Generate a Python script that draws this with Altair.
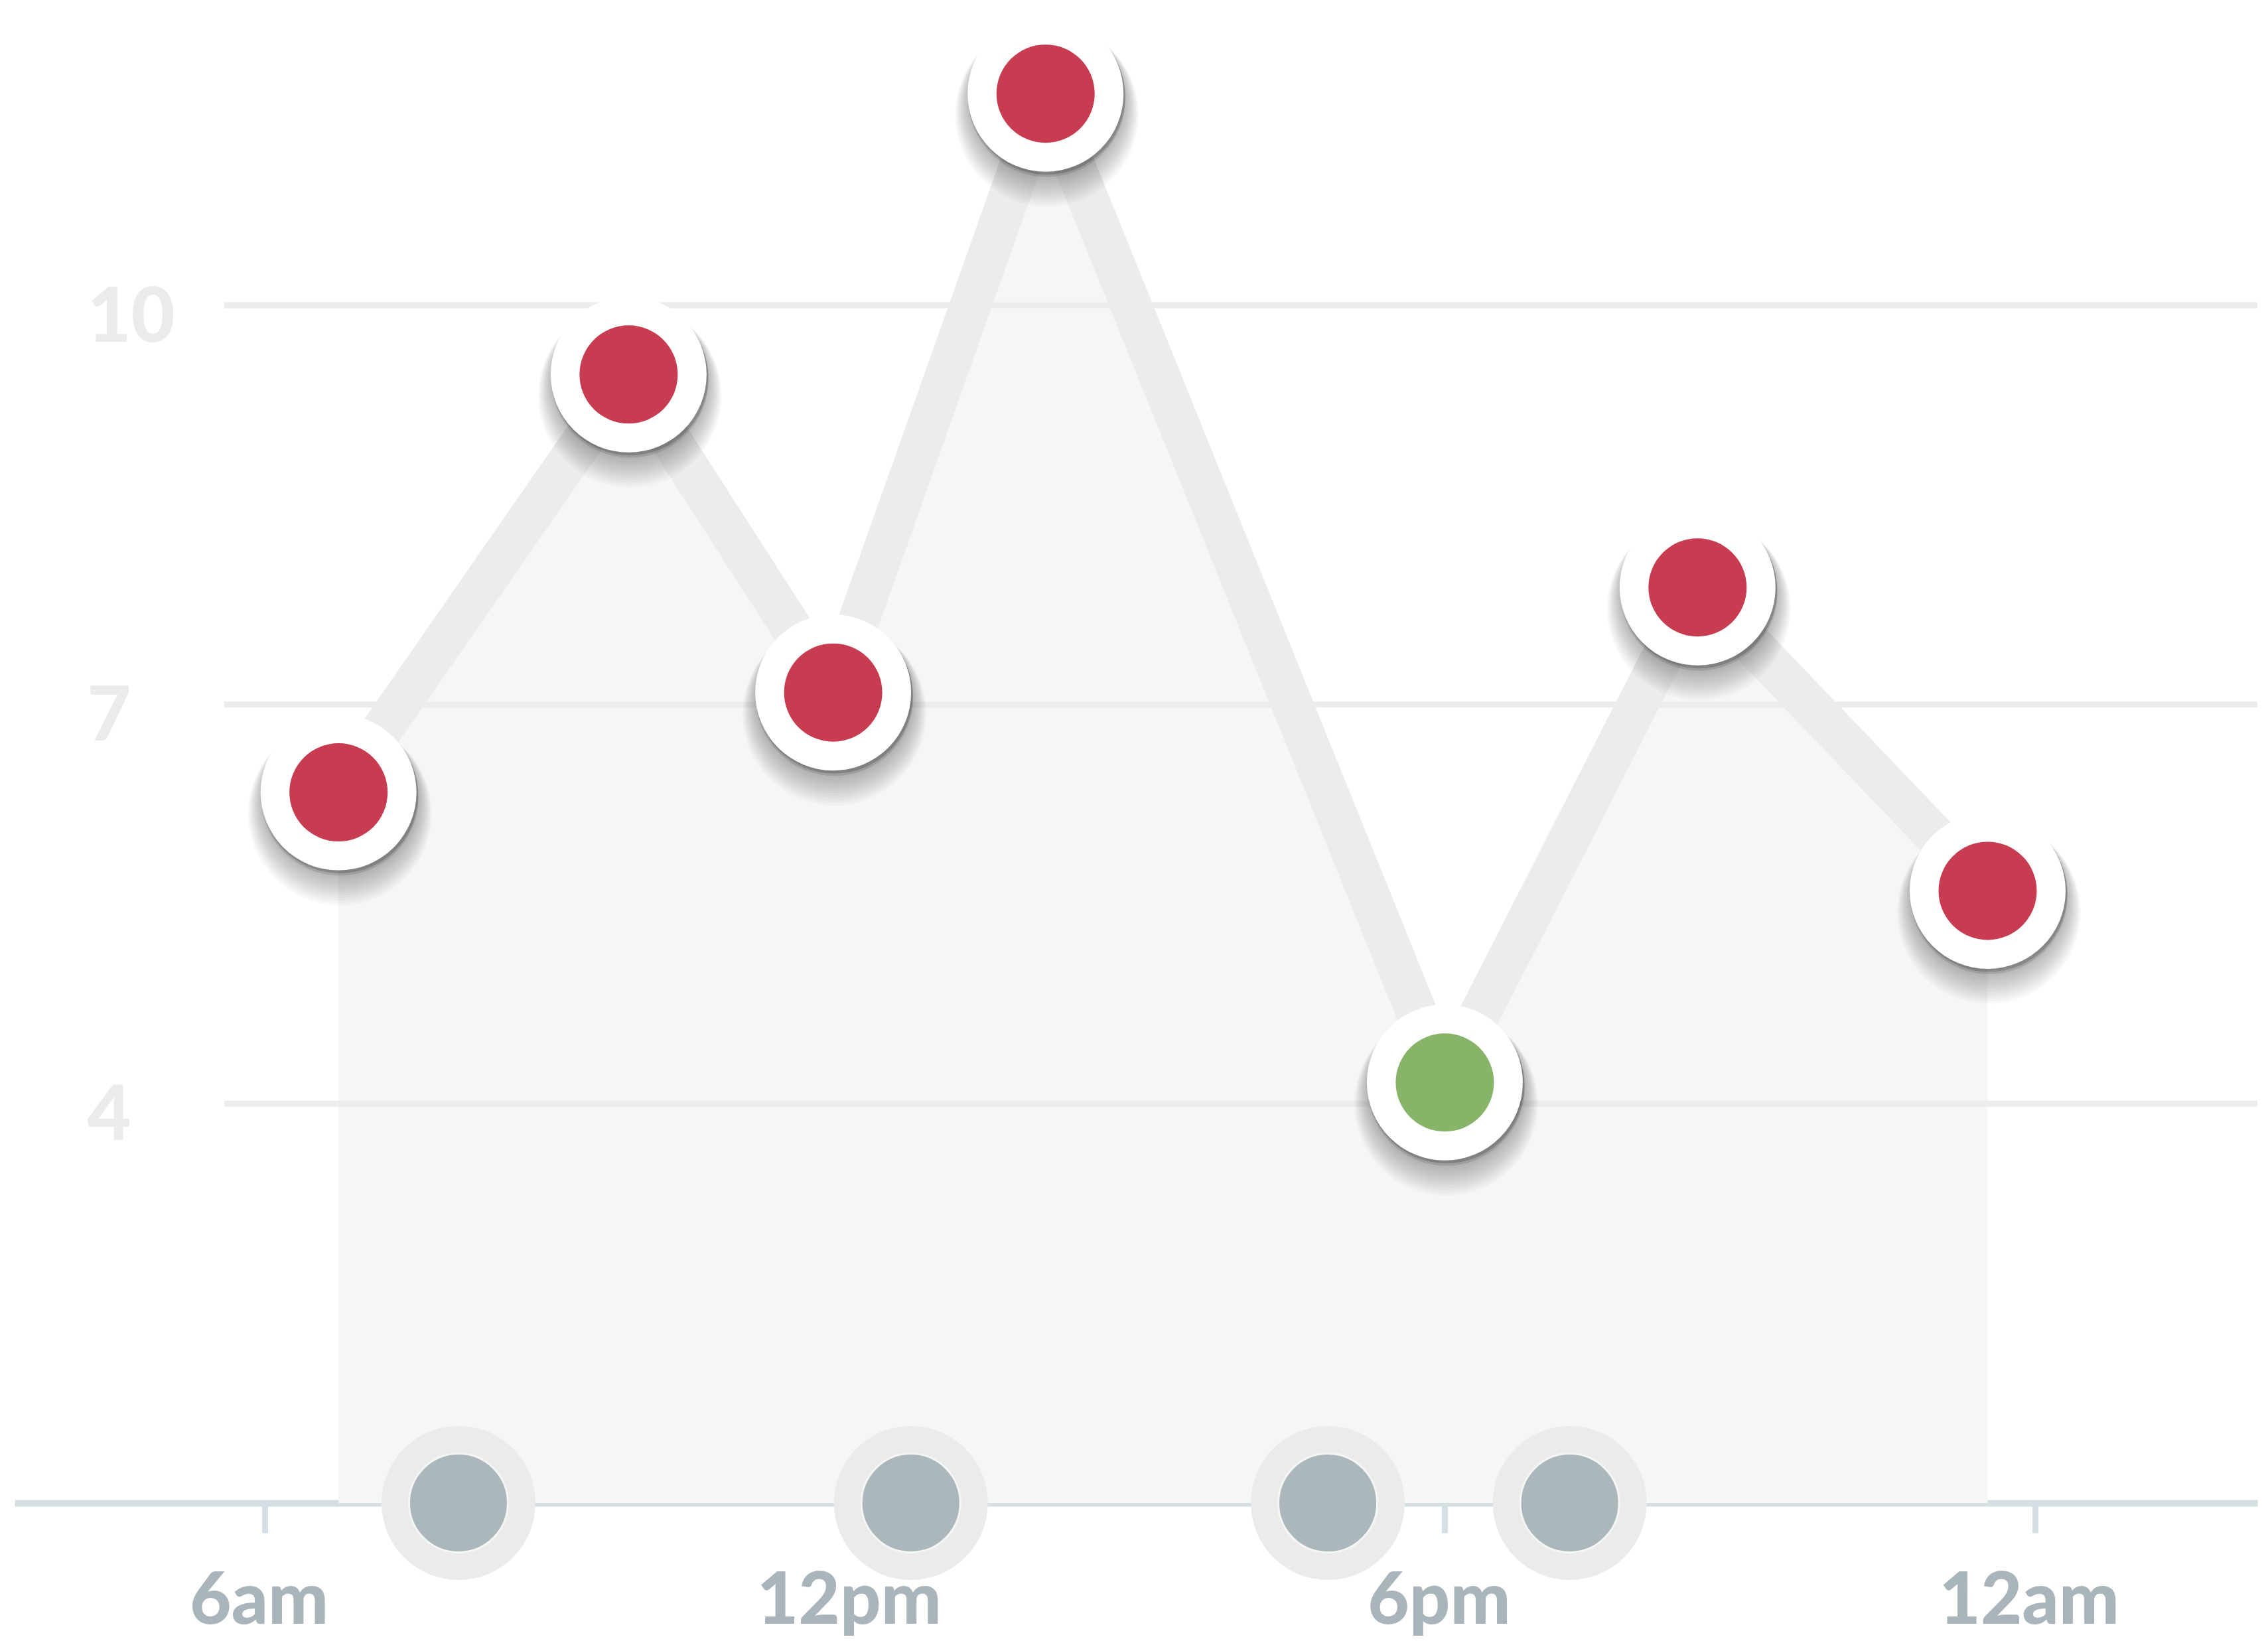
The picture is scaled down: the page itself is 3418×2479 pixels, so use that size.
import altair as alt
import pandas as pd

# ---- data ----
reading_hours = [6.75, 9.70, 11.78, 13.94, 18.0, 20.57, 23.52]
reading_values = [6.34, 9.48, 7.09, 11.59, 4.16, 7.88, 5.60]
reading_status = ["high", "high", "high", "high", "normal", "high", "high"]

event_hours = [7.97, 12.57, 16.81, 19.27]

grid_values = [4, 7, 10]
tick_hours = [6, 12, 18, 24]
tick_labels = ["6am", "12pm", "6pm", "12am"]

X_DOMAIN = [3.456, 26.263]
Y_DOMAIN = [1, 12.254]
GRID_START = 5.588

W, H = 3380, 2257


def disc(d):
    # Vega circle symbols: diameter = sqrt(size)
    return float(d * d)


readings = pd.DataFrame({"hour": reading_hours, "value": reading_values, "status": reading_status})
events = pd.DataFrame({"hour": event_hours})
grid = pd.DataFrame({"value": grid_values})

label_expr = " : ".join(
    f"datum.value == {h} ? '{l}'" for h, l in zip(tick_hours[:-1], tick_labels[:-1])
) + f" : '{tick_labels[-1]}'"

x_axis = alt.Axis(
    values=tick_hours, labelExpr=label_expr, title=None, grid=False,
    domain=True, domainColor="#d5dfe3", domainWidth=10,
    ticks=True, tickColor="#d5dfe3", tickWidth=9, tickSize=45,
    labelFont="Lato", labelFontSize=108, labelFontWeight=900, labelColor="#a9b5ba",
    labelPadding=51, labelFlush=False, labelOffset=-9, labelBaseline="top",
    labelLimit=0, labelOverlap=False,
)
y_axis = alt.Axis(
    values=grid_values, format="d", title=None, grid=False, domain=False, ticks=False, tickSize=0,
    labelAlign="left", labelPadding=-109, labelBaseline="middle", labelOffset=20,
    labelFont="Lato", labelFontSize=114, labelFontWeight=900, labelColor="#ebebeb",
    labelLimit=0, labelOverlap=False,
)
x_scale = alt.Scale(domain=X_DOMAIN, nice=False, zero=False)
y_scale = alt.Scale(domain=Y_DOMAIN, nice=False, zero=False)

X = alt.X("hour:Q", scale=x_scale, axis=x_axis)
Y = alt.Y("value:Q", scale=y_scale, axis=y_axis)

area = alt.Chart(readings).mark_area(color="#f6f6f6").encode(
    x=X, y=Y, y2=alt.Y2(datum=Y_DOMAIN[0])
)

gridlines = alt.Chart(grid).mark_rule(color="#ececec", strokeWidth=9).encode(
    y=Y, x=alt.X(datum=GRID_START, type="quantitative"), x2=alt.X2(datum=X_DOMAIN[1])
)

line = alt.Chart(readings).mark_line(color="#ececec", strokeWidth=62).encode(x=X, y=Y)

ev_y = alt.Y(datum=Y_DOMAIN[0], type="quantitative")
ev_ring = alt.Chart(events).mark_circle(color="#ebebeb", opacity=1, size=disc(232)).encode(x=X, y=ev_y)
ev_core = alt.Chart(events).mark_circle(
    color="#abb7bb", opacity=1, size=disc(149), stroke="#f4f6f6", strokeWidth=3
).encode(x=X, y=ev_y)

# soft drop shadow built from stacked translucent discs (mostly below the disc)
shadow_specs = [(235 + 3.5 * i, 8 + 2.0 * i, 0.022) for i in range(12, 0, -1)]
shadow_specs += [(237, 7, 0.12), (236, 4, 0.18)]
shadow_layers = [
    alt.Chart(readings).mark_circle(color="#000000", opacity=op, size=disc(d), yOffset=off, xOffset=2)
    .encode(x=X, y=Y)
    for d, off, op in shadow_specs
]

white = alt.Chart(readings).mark_circle(color="#ffffff", opacity=1, size=disc(235)).encode(x=X, y=Y)
core = alt.Chart(readings).mark_circle(opacity=1, size=disc(148)).encode(
    x=X, y=Y,
    color=alt.Color("status:N", scale=alt.Scale(domain=["high", "normal"], range=["#c83c51", "#88b46a"]), legend=None),
)

chart = alt.layer(
    area, gridlines, line, ev_ring, ev_core, *shadow_layers, white, core
).properties(
    width=W, height=H, padding={"left": 14, "top": 0, "right": 0, "bottom": 0},
    background="#ffffff",
).configure_view(stroke=None, strokeWidth=0)

chart.save("out.html", embed_options={"renderer": "svg", "actions": False})
